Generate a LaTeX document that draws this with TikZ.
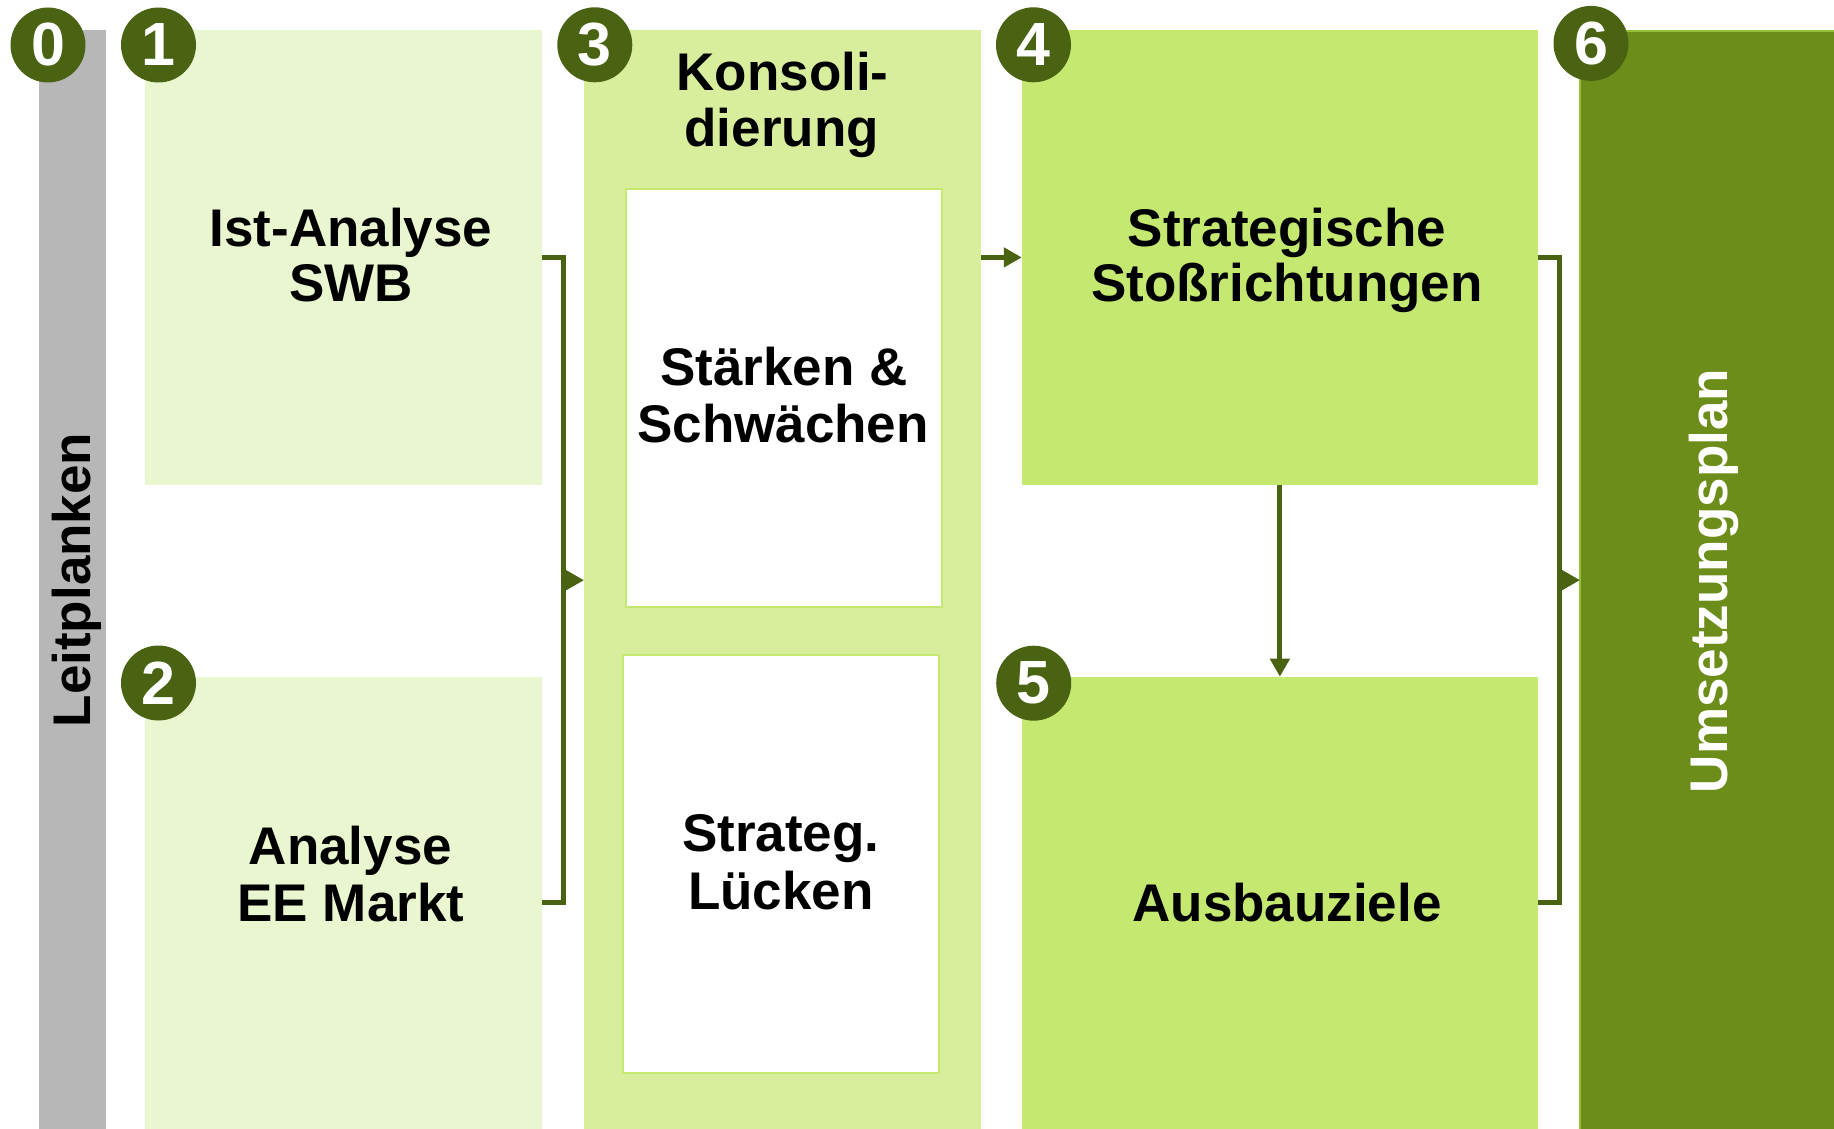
\documentclass[tikz,border=0pt]{standalone}
\usepackage{fontspec}
\setmainfont{Liberation Sans}
\usetikzlibrary{arrows.meta,calc}
\definecolor{cgray}{HTML}{B6B7B6}
\definecolor{cpale}{HTML}{EAF6CF}
\definecolor{cmid}{HTML}{D8EE9C}
\definecolor{clime}{HTML}{C5E870}
\definecolor{cdeep}{HTML}{6C8D19}
\definecolor{cborder}{HTML}{93C13C}
\definecolor{cdark}{HTML}{4A6312}
\begin{document}
\begin{tikzpicture}[x=1pt,y=-1pt,
  box/.style={rectangle, inner sep=0pt, outer sep=0pt, anchor=north west},
  lbl/.style={anchor=base, inner sep=0pt, font=\bfseries\fontsize{53}{57}\selectfont},
  num/.style={circle, fill=cdark, text=white, minimum size=75pt, inner sep=0pt, font=\bfseries\fontsize{61}{61}\selectfont},
  conn/.style={draw=cdark, line width=5pt},
  arr/.style={conn, -{Triangle[length=18pt,width=19pt]}}]
\useasboundingbox (0,0) rectangle (1834,1129);
% boxes
\node[box, fill=cgray, minimum width=67.8pt, minimum height=1098.6pt] (b0) at (38.6,30.4) {};
\node[box, fill=cpale, minimum width=397pt, minimum height=454.2pt] (b1) at (145,30.4) {};
\node[box, fill=cpale, minimum width=397pt, minimum height=452.2pt] (b2) at (145,676.8) {};
\node[box, fill=cmid, minimum width=397pt, minimum height=1098.8pt] (b3) at (584,30.2) {};
\node[box, fill=white, draw=clime, line width=2pt, minimum width=316.3pt, minimum height=417.7pt] (s1) at (626,189) {};
\node[box, fill=white, draw=clime, line width=2pt, minimum width=316.3pt, minimum height=417.2pt] (s2) at (622.7,655.3) {};
\node[box, fill=clime, minimum width=516.2pt, minimum height=454.4pt] (b4) at (1021.8,30.2) {};
\node[box, fill=clime, minimum width=516.2pt, minimum height=452.3pt] (b5) at (1021.8,676.7) {};
\node[box, fill=cdeep, draw=cborder, line width=2pt, minimum width=256pt, minimum height=1100pt] (b6) at (1580,31) {};
% connectors
\coordinate (k1) at ($(b1.east)+(21,0)$);
\coordinate (k2) at (k1 |- b2.east);
\draw[conn] (b1.east) -- (k1) -- (k2) -- (b2.east);
\coordinate (k3) at ($(k1)!0.5!(k2)$);
\draw[arr] (k3) -- (k3 -| b3.west);
\draw[arr] (b4.west -| b3.east) -- (b4.west);
\draw[arr] (b4.south) -- (b5.north);
\coordinate (k4) at ($(b4.east)+(21.5,0)$);
\coordinate (k5) at (k4 |- b5.east);
\draw[conn] (b4.east) -- (k4) -- (k5) -- (b5.east);
\coordinate (k6) at ($(k4)!0.5!(k5)$);
\draw[arr] (k6) -- (k6 -| b6.west);
% texts
\node[lbl, rotate=90] (t0) at (90,580) {Leitplanken};
\node[lbl] (t1a) at (351,246.4) {Ist-Analyse};
\node[lbl] (t1b) at (351,301.8) {SWB};
\node[lbl] (t2a) at (350.5,864) {Analyse};
\node[lbl] (t2b) at (351,921) {EE Markt};
\node[lbl] (t3a) at (782.5,90.7) {Konsoli-};
\node[lbl] (t3b) at (781.7,146.7) {dierung};
\node[lbl] (t3c) at (784,385) {Stärken \&};
\node[lbl] (t3d) at (783,442.3) {Schwächen};
\node[lbl] (t3e) at (780.8,851.7) {Strateg.};
\node[lbl] (t3f) at (780.8,909.3) {Lücken};
\node[lbl] (t4a) at (1287,246.4) {Strategische};
\node[lbl] (t4b) at (1287,301.8) {Stoßrichtungen};
\node[lbl] (t5) at (1287,921.2) {Ausbauziele};
\node[lbl, rotate=90, text=white] (t6) at (1727.5,581) {Umsetzungsplan};
% numbers
\node[num] (n0) at (48,45) {0};
\node[num] (n1) at (158.5,45) {1};
\node[num] (n2) at (158.5,683) {2};
\node[num] (n3) at (594.8,44.8) {3};
\node[num] (n4) at (1033.5,44.8) {4};
\node[num] (n5) at (1033.7,683.2) {5};
\node[num] (n6) at (1591,43.4) {6};
\end{tikzpicture}
\end{document}
